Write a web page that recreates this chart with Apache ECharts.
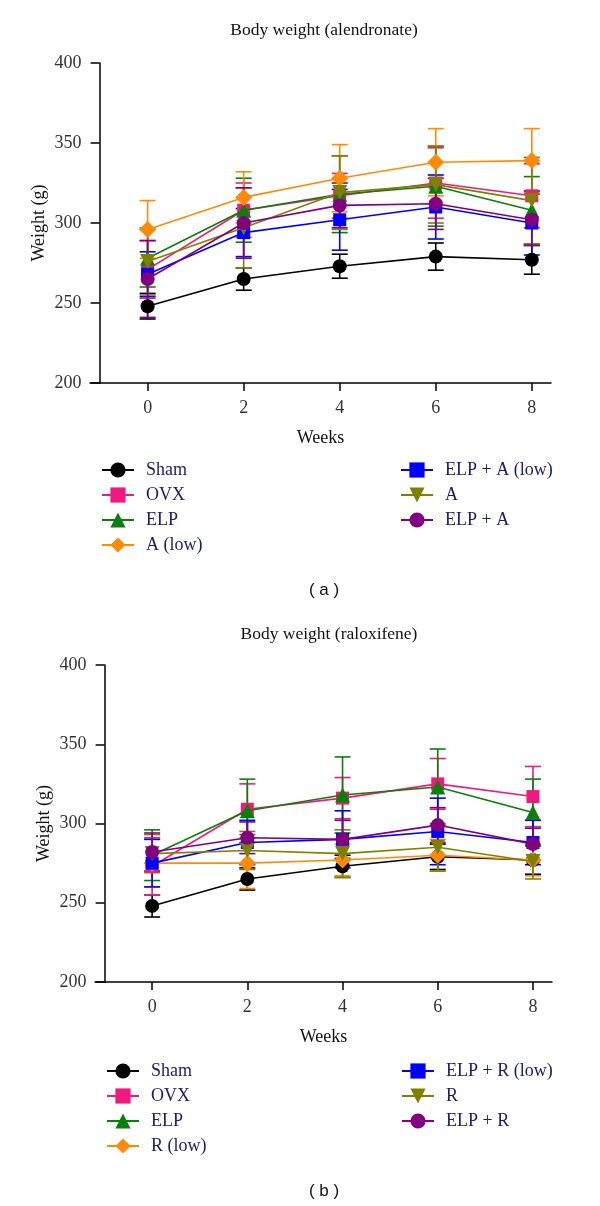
<!DOCTYPE html>
<html><head><meta charset="utf-8">
<script src="https://cdn.jsdelivr.net/npm/echarts@6/dist/echarts.min.js"></script>
<style>html,body{margin:0;padding:0;background:#fff}#c{width:600px;height:1206px}</style>
</head><body><div id="c"></div>
<script>
// ---- data ----
const weeks = [0, 2, 4, 6, 8];
const xTicks = [0, 2, 4, 6, 8];
const namesA = ['Sham', 'OVX', 'ELP', 'A (low)', 'ELP + A (low)', 'A', 'ELP + A'];
const namesB = ['Sham', 'OVX', 'ELP', 'R (low)', 'ELP + R (low)', 'R', 'ELP + R'];

// chart (a) alendronate: means
const aSham = [248, 265, 273, 279, 277];
const aOVX = [271, 308, 317, 325, 317];
const aELP = [278, 308, 318, 323, 308];
const aALow = [296, 316, 328, 338, 339];
const aELPALow = [268, 294, 302, 310, 300];
const aA = [276, 297, 319, 324, 314];
const aELPA = [265, 300, 311, 312, 302];
// chart (a) SD
const aShamSD = [8, 7, 7.5, 8.5, 9];
const aOVXSD = [18, 17, 14, 22, 20];
const aELPSD = [18, 20, 24, 25, 21];
const aALowSD = [18, 16, 21, 21, 20];
const aELPALowSD = [14, 15, 19, 20, 20];
const aASD = [21, 25, 23, 24, 27];
const aELPASD = [24, 22, 14, 16, 16];

// chart (b) raloxifene: means
const bSham = [248, 265, 273, 279, 277];
const bOVX = [273, 309, 316, 325, 317];
const bELP = [280, 308, 318, 323, 307];
const bRLow = [275, 275, 277, 280, 277];
const bELPRLow = [275, 288, 290, 295, 288];
const bR = [281, 283, 281, 285, 276];
const bELPR = [282, 291, 290, 299, 287];
// chart (b) SD
const bShamSD = [7, 7, 7, 8, 9];
const bOVXSD = [18, 16, 13, 16, 19];
const bELPSD = [16, 20, 24, 24, 21];
const bRLowSD = [15, 16, 10, 10, 10];
const bELPRLowSD = [15, 14, 18, 21, 14];
const bRSD = [12, 12, 15, 15, 11];
const bELPRSD = [12, 10, 12, 11, 10];

// ---- styles ----
const colors = ['#000000', '#f0197d', '#0a7f0a', '#ff8a0a', '#0000ff', '#808000', '#800080'];
const symbols = ['circle', 'rect', 'triangle', 'diamond', 'rect', 'triangle', 'circle'];
const symbolRot = [0, 0, 0, 0, 0, 180, 0];
const symbolSizes = [14, 13, 15, 17, 13, 15, 14];
const serif = 'Liberation Serif';

const chart = echarts.init(document.getElementById('c'));

function buildSeries(gi, names, means, sds) {
  const out = [];
  names.forEach((n, i) => {
    const col = colors[i];
    out.push({
      type: 'custom', xAxisIndex: gi, yAxisIndex: gi, z: 2 + i * 0.01,
      data: weeks.map((w, j) => [w, means[i][j], sds[i][j]]),
      encode: { x: 0, y: 1 },
      silent: true,
      renderItem: function (params, api) {
        const x = api.value(0), m = api.value(1), s = api.value(2);
        const t = api.coord([x, m + s]);
        const b = api.coord([x, m - s]);
        const hw = 8;
        const st = { stroke: col, lineWidth: 1.6 };
        return { type: 'group', children: [
          { type: 'line', shape: { x1: t[0], y1: t[1], x2: b[0], y2: b[1] }, style: st },
          { type: 'line', shape: { x1: t[0] - hw, y1: t[1], x2: t[0] + hw, y2: t[1] }, style: st },
          { type: 'line', shape: { x1: b[0] - hw, y1: b[1], x2: b[0] + hw, y2: b[1] }, style: st }
        ] };
      }
    });
    out.push({
      name: n, type: 'line', xAxisIndex: gi, yAxisIndex: gi, z: 3 + i * 0.01,
      data: weeks.map((w, j) => [w, means[i][j]]),
      symbol: symbols[i], symbolSize: symbolSizes[i], symbolRotate: symbolRot[i],
      itemStyle: { color: col, opacity: 1 },
      lineStyle: { color: col, width: 1.6 },
      emphasis: { disabled: true },
      animation: false
    });
  });
  return out;
}

function xAxis(gi) {
  return {
    gridIndex: gi, type: 'value', min: -1.2, max: 8.4,
    axisLine: { onZero: false, lineStyle: { color: '#000', width: 1.5 } },
    axisTick: { customValues: xTicks, length: 8, lineStyle: { color: '#000', width: 1.5 } },
    axisLabel: { customValues: xTicks, fontFamily: serif, fontSize: 18, color: '#333', margin: 16 },
    splitLine: { show: false },
    name: 'Weeks', nameLocation: 'middle', nameGap: 46,
    nameTextStyle: { fontFamily: serif, fontSize: 18, color: '#111' }
  };
}
function yAxis(gi) {
  return {
    gridIndex: gi, type: 'value', min: 200, max: 400, interval: 50, offset: -9.6,
    axisLine: { show: true, onZero: false, lineStyle: { color: '#000', width: 1.5 } },
    axisTick: { show: true, length: 9, lineStyle: { color: '#000', width: 1.5 } },
    axisLabel: { fontFamily: serif, fontSize: 18, color: '#333', margin: 18 },
    splitLine: { show: false },
    name: 'Weight (g)', nameLocation: 'middle', nameGap: 51, nameMoveOverlap: false,
    nameTextStyle: { fontFamily: serif, fontSize: 18, color: '#111' }
  };
}
function legend(left, top, data) {
  return {
    orient: 'vertical', left: left, top: top, data: data, padding: 0,
    itemWidth: 32, itemHeight: 19, itemGap: 7,
    selectedMode: false,
    textStyle: { fontFamily: serif, fontSize: 18, color: '#1a1a70', lineHeight: 18, padding: [0, 0, 0, 7] }
  };
}

const series = [].concat(
  buildSeries(0, namesA, [aSham, aOVX, aELP, aALow, aELPALow, aA, aELPA],
    [aShamSD, aOVXSD, aELPSD, aALowSD, aELPALowSD, aASD, aELPASD]),
  buildSeries(1, namesB, [bSham, bOVX, bELP, bRLow, bELPRLow, bR, bELPR],
    [bShamSD, bOVXSD, bELPSD, bRLowSD, bELPRLowSD, bRSD, bELPRSD])
);

chart.setOption({
  animation: false,
  backgroundColor: '#fff',
  grid: [
    { left: 90, right: 49, top: 63, height: 320 },
    { left: 95, right: 48, top: 665, height: 317 }
  ],
  xAxis: [xAxis(0), xAxis(1)],
  yAxis: [yAxis(0), yAxis(1)],
  legend: [
    legend(101, 461, namesA.slice(0, 4)),
    legend(400, 461, namesA.slice(4)),
    legend(106, 1062, namesB.slice(0, 4)),
    legend(401, 1062, namesB.slice(4))
  ],
  graphic: [
    { type: 'text', x: 324, y: 30, style: { text: 'Body weight (alendronate)', fontFamily: serif, fontSize: 17.5, fill: '#111', align: 'center', verticalAlign: 'middle' } },
    { type: 'text', x: 324, y: 590, style: { text: '( a )', fontFamily: 'Liberation Sans', fontSize: 17, fill: '#111', align: 'center', verticalAlign: 'middle' } },
    { type: 'text', x: 329, y: 634, style: { text: 'Body weight (raloxifene)', fontFamily: serif, fontSize: 17.5, fill: '#111', align: 'center', verticalAlign: 'middle' } },
    { type: 'text', x: 324, y: 1191, style: { text: '( b )', fontFamily: 'Liberation Sans', fontSize: 17, fill: '#111', align: 'center', verticalAlign: 'middle' } }
  ],
  series: series
});
</script></body></html>
